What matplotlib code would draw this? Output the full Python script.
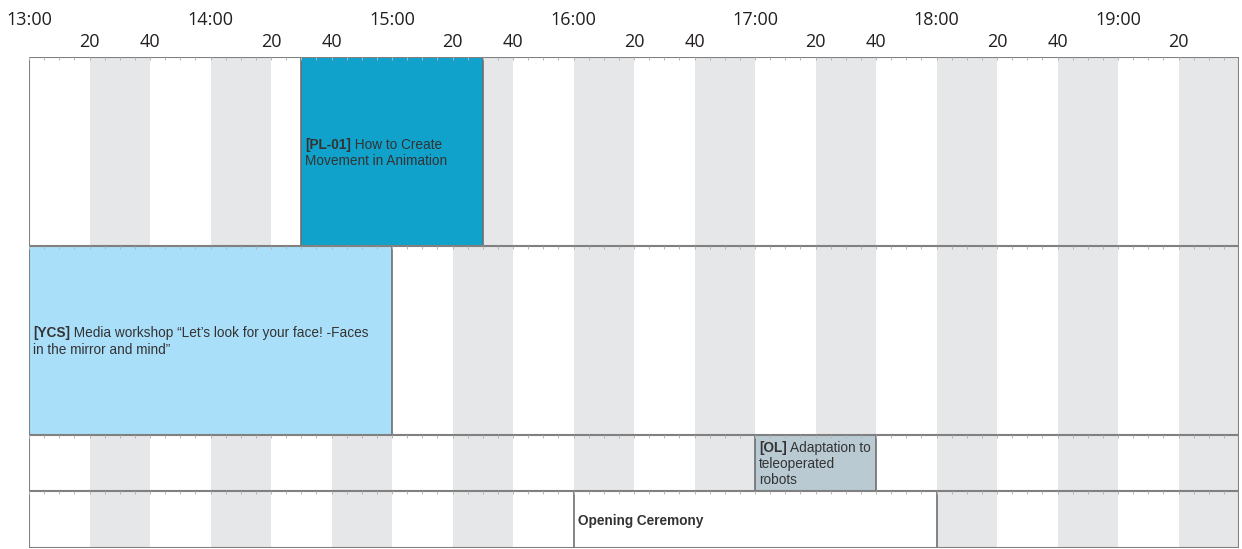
import matplotlib
matplotlib.use("Agg")
import matplotlib.pyplot as plt
from matplotlib.patches import Rectangle

# ---- data ----
hour_labels = ["13:00", "14:00", "15:00", "16:00", "17:00", "18:00", "19:00"]
minute_labels = ["20", "40"]
day_start = "13:00"
day_end = "19:40"

event_codes = ["[PL-01]", "[YCS]", "[OL]", ""]
event_titles = [
    ["How to Create", "Movement in Animation"],
    ["Media workshop \u201cLet\u2019s look for your face! -Faces", "in the mirror and mind\u201d"],
    ["Adaptation to", "teleoperated", "robots"],
    ["Opening Ceremony"],
]
event_bold_titles = [False, False, False, True]
event_starts = ["14:30", "13:00", "17:00", "16:00"]
event_ends = ["15:30", "15:00", "17:40", "18:00"]
event_rows = [0, 1, 2, 3]
event_colors = ["#11a2cb", "#aadff9", "#b9cad3", "#ffffff"]

# ---- layout ----
row_heights = [189, 189, 56, 57]
stripe_color = "#e6e7e9"
line_color = "#808080"
text_color = "#333333"


def to_min(s):
    h, m = s.split(":")
    return (int(h) - 13) * 60 + int(m)


x0, x1 = to_min(day_start), to_min(day_end)
bounds = [0]
for h in row_heights:
    bounds.append(bounds[-1] + h)
total_h = bounds[-1]

W, H = 1242, 549
fig = plt.figure(figsize=(W / 100, H / 100), dpi=100)
ax = fig.add_axes([29 / W, 1 / H, (1239 - 29) / W, (548 - 57) / H])
ax.set_xlim(x0, x1)
ax.set_ylim(total_h, 0)
for s in ax.spines.values():
    s.set_visible(False)

# stripes every 20 min alternating
t = x0
k = 0
while t < x1:
    if k % 2 == 1:
        ax.axvspan(t, min(t + 20, x1), color=stripe_color, lw=0, zorder=0)
    t += 20
    k += 1

# events
ev_font = ["Liberation Sans", "DejaVu Sans"]
fs = 9.8
for code, title, bt, s, e, r, c in zip(event_codes, event_titles, event_bold_titles,
                                       event_starts, event_ends, event_rows, event_colors):
    xs, xe = to_min(s), to_min(e)
    y0, y1 = bounds[r], bounds[r + 1]
    ax.add_patch(Rectangle((xs, y0), xe - xs, y1 - y0, facecolor=c,
                           edgecolor="#6d6e71", lw=1.2, zorder=3))
    n = len(title)
    lh = 16.0
    yc = (y0 + y1) / 2 + 1
    xt = xs + 1.4
    for i, line in enumerate(title):
        yl = yc + (i - (n - 1) / 2) * lh
        if i == 0 and code:
            tb = ax.text(xt, yl, code, family=ev_font, fontsize=fs, fontweight="bold",
                         color=text_color, ha="left", va="center", zorder=5)
            ax.annotate(" " + line, xy=(1, 0), xycoords=tb, family=ev_font, fontsize=fs,
                        color=text_color, ha="left", va="bottom", zorder=5)
        else:
            ax.text(xt, yl, line, family=ev_font, fontsize=fs,
                    fontweight="bold" if bt else "normal",
                    color=text_color, ha="left", va="center", zorder=5)

# row lines and frame
for b in bounds:
    ax.axhline(b, color=line_color, lw=1.5, zorder=4)
ax.axvline(x0, color=line_color, lw=1.5, zorder=4)
ax.axvline(x1, color=line_color, lw=1.5, zorder=4)

# small 5-min ticks under each boundary line
for b in bounds[:-1]:
    ax.vlines(range(x0, x1 + 1, 5), b, b + 2.5, color="#b5b5b5", lw=0.7, zorder=4)

# axis labels on top
ax.xaxis.tick_top()
hour_pos = [to_min(h) for h in hour_labels]
ax.set_xticks(hour_pos)
ax.set_xticklabels(hour_labels, family=["Open Sans", "DejaVu Sans"], fontsize=13, color="#231f20")
min_pos = []
min_lab = []
for hp in hour_pos:
    for ml in minute_labels:
        p = hp + int(ml)
        if p < x1:
            min_pos.append(p)
            min_lab.append(ml)
ax.set_xticks(min_pos, minor=True)
ax.set_xticklabels(min_lab, minor=True, family=["Open Sans", "DejaVu Sans"], fontsize=13, color="#231f20")
ax.tick_params(axis="x", which="major", length=0, pad=20)
ax.tick_params(axis="x", which="minor", length=0, pad=4)
ax.set_yticks([])

fig.savefig("out.png", dpi=100, facecolor="white")
